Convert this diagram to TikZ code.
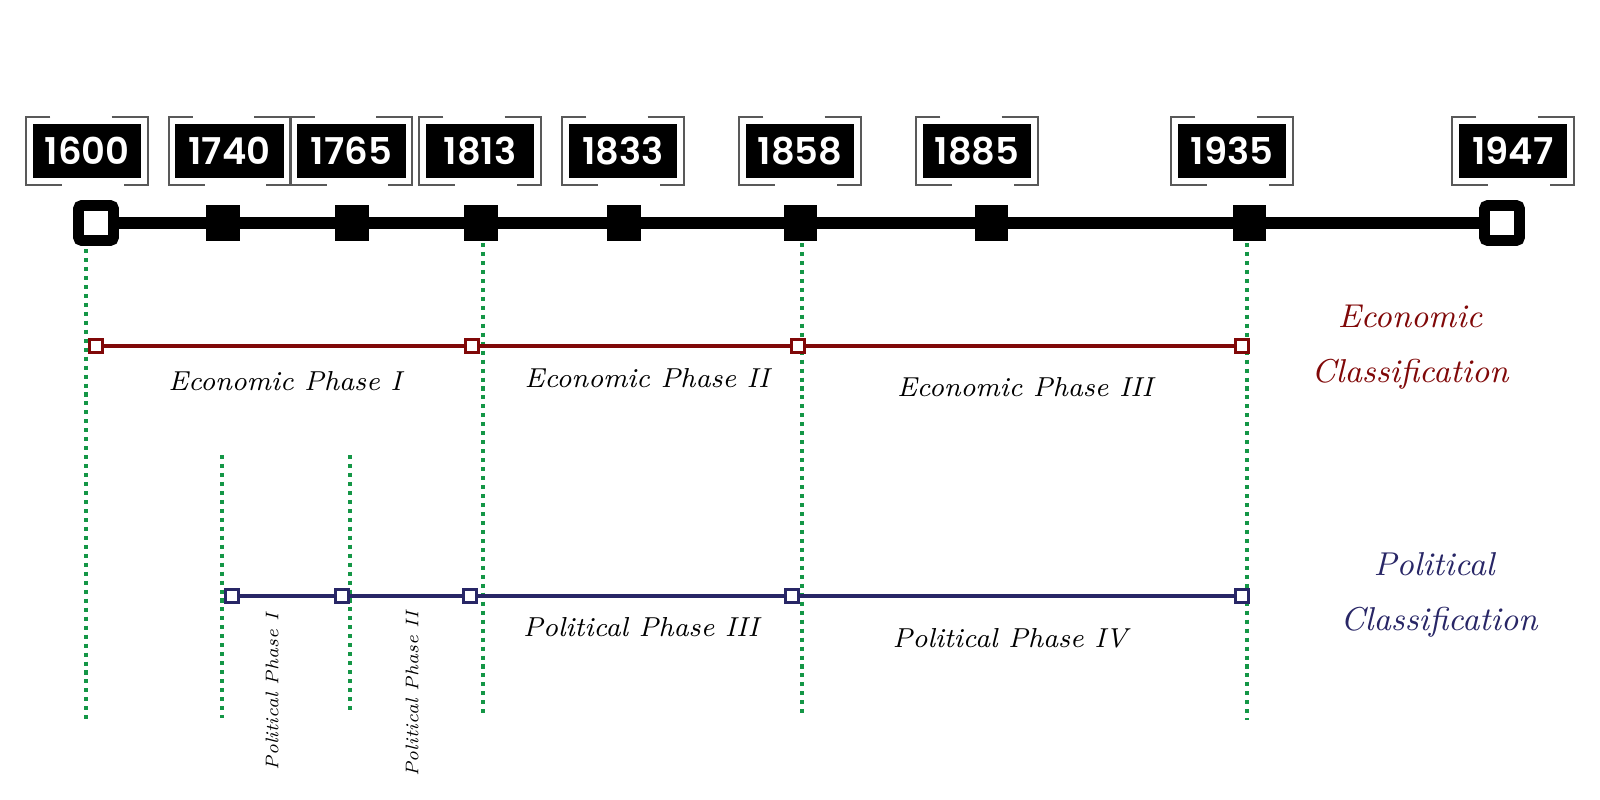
\documentclass[tikz,border=0pt]{standalone}
\usepackage{fontspec}
\newfontfamily\yearfont{Poppins}[BoldFont={Poppins SemiBold}]
\usetikzlibrary{calc}
\definecolor{econred}{RGB}{128,8,8}
\definecolor{polblue}{RGB}{40,38,102}
\definecolor{guidegreen}{RGB}{20,150,70}
\tikzset{
	yearbox/.style={
			fill=black, text=white, inner sep=0pt,
			minimum width=1.08cm, minimum height=0.54cm,
			font=\yearfont\bfseries\fontsize{10.5}{12}\selectfont
		},
	bracket/.style={draw=black!65, line width=0.6pt},
	datemark/.style={fill=black, minimum width=0.33cm, minimum height=0.36cm, inner sep=0pt},
	endmark/.style={draw=black, fill=white, line width=3.1pt, rounded corners=1pt, minimum size=0.35cm, inner sep=0pt},
	guide/.style={guidegreen, line width=1.15pt, dash pattern=on 1.15pt off 1.4pt},
	econpoint/.style={draw=econred, fill=white, line width=1.1pt, minimum size=0.13cm, inner sep=0pt},
	polpoint/.style={draw=polblue, fill=white, line width=1.1pt, minimum size=0.13cm, inner sep=0pt},
	phase/.style={anchor=base, font=\itshape\fontsize{7.8}{9}\selectfont},
	smallphase/.style={rotate=90, font=\itshape\fontsize{5.2}{6}\selectfont},
	classlabel/.style={anchor=base, font=\itshape\fontsize{9.4}{11}\selectfont}
}

\begin{document}
\begin{tikzpicture}[x=0.01cm, y=-0.01cm]
		\useasboundingbox (0, 0) rectangle (1600, 800);

		% years
		\foreach \yr/\bx in {1600/87, 1740/229.5, 1765/351.5, 1813/480, 1833/623, 1858/800, 1885/977, 1935/1232, 1947/1513} {
				\node[yearbox] (y\yr) at (\bx, 151) {\yr};
				\draw[bracket] ($(y\yr.north west)+(18, -6)$) to ($(y\yr.north west)+(-6, -6)$) to ($(y\yr.south west)+(-6, 6)$) to ($(y\yr.south west)+(30, 6)$);
				\draw[bracket] ($(y\yr.north east)+(-30, -6)$) to ($(y\yr.north east)+(6, -6)$) to ($(y\yr.south east)+(6, 6)$) to ($(y\yr.south east)+(-18, 6)$);
			}

		% timeline
		\node[endmark] (m1600) at (96, 223) {};
		\node[endmark] (m1947) at (1502, 223) {};
		\foreach \yr/\mx in {1740/223, 1765/352, 1813/481, 1833/624, 1858/800, 1885/991, 1935/1249}
		\node[datemark] (m\yr) at (\mx, 223) {};
		\draw[line width=3.4pt] (m1600) to (m1947);

		% guides
		\foreach \gx/\gt/\gb in {86/249/720, 483/243/713, 802/243/713, 1247/243/720, 222/455/718, 350/455/713}
		\draw[guide] (\gx, \gt) to (\gx, \gb);

		% economic
		\node[econpoint] (e1) at (96, 346) {};
		\node[econpoint] (e2) at (472, 346) {};
		\node[econpoint] (e3) at (798, 346) {};
		\node[econpoint] (e4) at (1242, 346) {};
		\draw[econred, line width=1.1pt] (e1) to (e2) to (e3) to (e4);
		\node[phase] (ep1) at (285, 390) {Economic Phase I};
		\node[phase] (ep2) at (647, 387) {Economic Phase II};
		\node[phase] (ep3) at (1025, 396) {Economic Phase III};
		\node[classlabel, econred] (ec1) at (1410, 327) {Economic};
		\node[classlabel, econred] (ec2) at (1410, 382) {Classification};

		% political
		\node[polpoint] (p1) at (232, 596) {};
		\node[polpoint] (p2) at (342, 596) {};
		\node[polpoint] (p3) at (470, 596) {};
		\node[polpoint] (p4) at (792, 596) {};
		\node[polpoint] (p5) at (1242, 596) {};
		\draw[polblue, line width=1.1pt] (p1) to (p2) to (p3) to (p4) to (p5);
		\node[smallphase] (pp1) at (272, 692) {Political Phase I};
		\node[smallphase] (pp2) at (412, 694) {Political Phase II};
		\node[phase] (pp3) at (641, 636) {Political Phase III};
		\node[phase] (pp4) at (1010, 647) {Political Phase IV};
		\node[classlabel, polblue] (pc1) at (1434, 575) {Political};
		\node[classlabel, polblue] (pc2) at (1439, 630) {Classification};
	\end{tikzpicture}
\end{document}
